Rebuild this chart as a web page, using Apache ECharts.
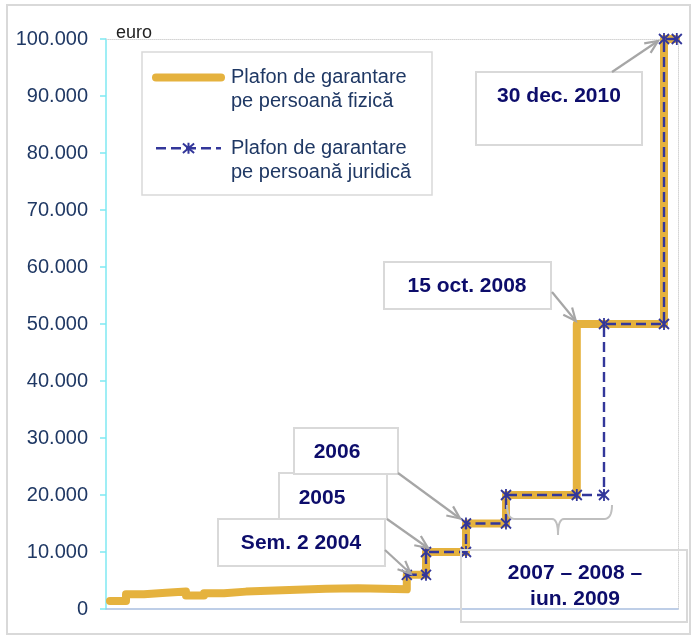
<!DOCTYPE html>
<html>
<head>
<meta charset="utf-8">
<script src="https://cdn.jsdelivr.net/npm/echarts@6/dist/echarts.min.js"></script>
<style>
  html, body { margin: 0; padding: 0; background: #fff; }
  #chart { width: 692px; height: 636px; }
</style>
</head>
<body>
<div id="chart"></div>
<script>
// date ca ani zecimali, valori in euro
const seriesNames = ['Plafon de garantare\npe persoană fizică', 'Plafon de garantare\npe persoană juridică'];
const fizicaX = [1997.1, 1997.5, 1997.95, 1998.5, 1999.0, 1999.45, 1999.95, 2000.5, 2001.4, 2002.5, 2003.3, 2004.52, 2005.0, 2006.0, 2007.0, 2008.77, 2010.95, 2011.25];
const fizicaY = [1400, 2600, 2850, 3050, 2350, 2750, 3050, 3300, 3550, 3650, 3450, 6000, 10000, 15000, 20000, 50000, 100000, 100000];
const juridicaX = [2004.52, 2005.0, 2005.0, 2006.0, 2006.0, 2007.0, 2007.0, 2008.77, 2009.45, 2009.45, 2010.95, 2010.95, 2011.27];
const juridicaY = [6000, 6000, 10000, 10000, 15000, 15000, 20000, 20000, 20000, 50000, 50000, 100000, 100000];
const yTickLabels = ['0', '10.000', '20.000', '30.000', '40.000', '50.000', '60.000', '70.000', '80.000', '90.000', '100.000'];

// adnotari: text, punctul indicat (an, valoare)
const noteTexts = ['Sem. 2 2004', '2005', '2006', '15 oct. 2008', '30 dec. 2010', '2007 – 2008 –\niun. 2009'];
const noteAtX = [2004.52, 2005.0, 2006.0, 2008.77, 2010.95, null];
const noteAtY = [6000, 10000, 15000, 50000, 100000, null];

const navy = '#1f3864';
const orange = '#e5b23e';
const blue = '#33379a';
const star = 'path://M0,0L10,10M10,0L0,10M5,-1L5,11';

const chart = echarts.init(document.getElementById('chart'));

chart.setOption({
  animation: false,
  textStyle: { fontFamily: 'Arial, Liberation Sans, sans-serif' },
  grid: { left: 106, right: 14, top: 39, bottom: 27, containLabel: false },
  legend: {
    orient: 'vertical',
    left: 152,
    top: 41,
    padding: 0,
    itemGap: 0,
    itemWidth: 65,
    itemHeight: 14,
    selectedMode: false,
    // prima linie de text aliniata cu simbolul
    formatter: name => '{s| }\n' + name.split('\n').map(l => '{t|' + l + '}').join('\n'),
    textStyle: {
      rich: {
        s: { fontSize: 20, lineHeight: 24, height: 24 },
        t: { fontSize: 20, lineHeight: 24.5, color: navy, padding: [0, 0, 0, 5] }
      }
    },
    data: [
      { name: seriesNames[0], lineStyle: { width: 8, cap: 'round', color: orange },
        itemStyle: { opacity: 0, color: 'rgba(0,0,0,0)', borderWidth: 0 } },
      { name: seriesNames[1], lineStyle: { width: 2.4, type: [10, 5], color: blue } }
    ]
  },
  xAxis: [
    {
      type: 'value', min: 1997, max: 2011.3,
      axisLine: { show: true, onZero: false, lineStyle: { color: '#a9bfe0', width: 1.5 } },
      axisTick: { show: false }, axisLabel: { show: false }, splitLine: { show: false }
    },
    {
      type: 'value', position: 'top', min: 1997, max: 2011.3,
      axisLine: { show: true, onZero: false, lineStyle: { color: '#d4d4d4', type: 'dotted' } },
      axisTick: { show: false }, axisLabel: { show: false }, splitLine: { show: false }
    }
  ],
  yAxis: [
    {
      type: 'value', min: 0, max: 100000, interval: 10000,
      name: 'euro', nameLocation: 'end', nameGap: -3,
      nameTextStyle: { align: 'left', padding: [0, 0, 0, 10], fontSize: 18, color: '#222' },
      axisLine: { show: true, onZero: false, lineStyle: { color: '#7fe9f2', width: 1.5 } },
      axisTick: { show: true, length: 6, lineStyle: { color: '#7fe9f2', width: 1.5 } },
      axisLabel: { margin: 18, fontSize: 20, color: navy, formatter: v => yTickLabels[Math.round(v / 10000)] },
      splitLine: { show: false }
    },
    {
      type: 'value', position: 'right', min: 0, max: 100000,
      axisLine: { show: true, onZero: false, lineStyle: { color: '#d4d4d4', type: 'dotted' } },
      axisTick: { show: false }, axisLabel: { show: false }, splitLine: { show: false }
    }
  ],
  series: [
    {
      name: seriesNames[0],
      type: 'line',
      step: 'end',
      clip: false,
      showSymbol: false,
      symbol: 'none',
      color: orange,
      lineStyle: { width: 8, color: orange, cap: 'round', join: 'round' },
      z: 2,
      data: fizicaX.map((x, i) => [x, fizicaY[i]])
    },
    {
      name: seriesNames[1],
      type: 'line',
      clip: false,
      symbol: star,
      symbolSize: 12,
      symbolKeepAspect: true,
      color: blue,
      itemStyle: { color: 'none', borderColor: blue, borderWidth: 1.8 },
      lineStyle: { width: 2.4, color: blue, type: [10, 5] },
      z: 3,
      data: juridicaX.map((x, i) => [x, juridicaY[i]])
    }
  ]
});

// casetele cu adnotari
const noteLayout = [
  { box: [218, 519, 167, 47], text: [301, 543], from: [385, 550], off: [4, -1] },
  { box: [279, 473, 108, 46], text: [322, 498], from: [387, 519], off: [2, -4] },
  { box: [294, 428, 104, 46], text: [337, 452], from: [398, 473], off: [-6, -5] },
  { box: [384, 262, 167, 47], text: [467, 286], from: [552, 292], off: [-1, -3] },
  { box: [476, 72, 166, 73], text: [559, 96], from: [612, 72], off: [-6, 2] },
  { box: [461, 550, 226, 72], text: [575, 586], from: null, off: null }
];

function arrow(from, tip) {
  const a = Math.atan2(tip[1] - from[1], tip[0] - from[0]);
  const L = 14, s = 0.42;
  const p1 = [tip[0] - L * Math.cos(a - s), tip[1] - L * Math.sin(a - s)];
  const p2 = [tip[0] - L * Math.cos(a + s), tip[1] - L * Math.sin(a + s)];
  const st = { stroke: '#a6a6a6', lineWidth: 2.2, fill: null };
  return [
    { type: 'polyline', z: 50, shape: { points: [from, tip] }, style: st },
    { type: 'polyline', z: 50, shape: { points: [p1, tip, p2] }, style: st }
  ];
}

// curba patratica esantionata
function quad(p0, c, p1) {
  const pts = [];
  for (let k = 0; k <= 8; k++) {
    const t = k / 8;
    pts.push([
      (1 - t) * (1 - t) * p0[0] + 2 * (1 - t) * t * c[0] + t * t * p1[0],
      (1 - t) * (1 - t) * p0[1] + 2 * (1 - t) * t * c[1] + t * t * p1[1]
    ]);
  }
  return pts;
}

// acolada peste perioada 2007 - iun. 2009
const bracePts = [].concat(
  quad([507, 505], [507, 519], [515, 519]),
  quad([552, 519], [558, 519], [558, 535]),
  quad([558, 535], [558, 519], [564, 519]),
  quad([604, 519], [612, 519], [612, 505])
);

const elements = [
  { type: 'rect', z: -1, shape: { x: 7, y: 5, width: 683, height: 629 }, style: { fill: null, stroke: '#d9d9d9', lineWidth: 2 } },
  { type: 'rect', z: 1, shape: { x: 142, y: 52, width: 290, height: 143 }, style: { fill: null, stroke: '#d9d9d9', lineWidth: 1.5 } },
  { type: 'polyline', z: 40, shape: { points: bracePts }, style: { fill: null, stroke: '#bfbfbf', lineWidth: 2 } }
];

noteLayout.forEach((n, i) => {
  elements.push({
    type: 'rect', z: 45,
    shape: { x: n.box[0], y: n.box[1], width: n.box[2], height: n.box[3] },
    style: { fill: i === 5 ? null : '#fff', stroke: '#d9d9d9', lineWidth: 2 }
  });
  elements.push({
    type: 'text', z: 46,
    style: {
      text: noteTexts[i], x: n.text[0], y: n.text[1],
      textAlign: 'center', textVerticalAlign: 'middle',
      font: 'bold 21px Arial, Liberation Sans, sans-serif', lineHeight: 25.5,
      fill: '#0d0d6b'
    }
  });
  if (n.from) {
    const p = chart.convertToPixel({ xAxisIndex: 0, yAxisIndex: 0 }, [noteAtX[i], noteAtY[i]]);
    arrow(n.from, [p[0] + n.off[0], p[1] + n.off[1]]).forEach(e => elements.push(e));
  }
});

chart.setOption({ graphic: { elements: elements } });
</script>
</body>
</html>
